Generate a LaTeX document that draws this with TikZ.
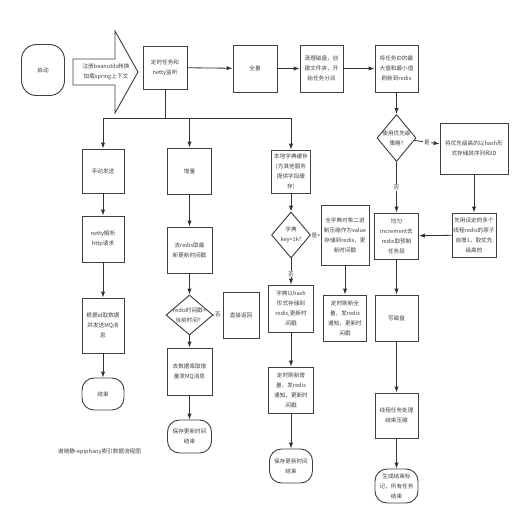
\documentclass[tikz,border=0pt]{standalone}
\usepackage{fontspec}
\setmainfont{Noto Sans CJK SC}
\usepackage{tikz}
\usetikzlibrary{arrows.meta,shapes.geometric}
\newdimen\pxu \pxu=0.03cm
\tikzset{
  bx/.style={rectangle,draw=black!75,fill=white,line width=.8pt,inner sep=1pt,align=center,
    font=\fontsize{4.8}{8.5}\selectfont,text=black!75},
  tm/.style={bx,rounded corners=12\pxu},
  dc/.style={diamond,draw=black!75,fill=white,line width=.8pt,inner sep=0pt},
  sz/.style 2 args={minimum width=#1\pxu,minimum height=#2\pxu},
  arr/.style={-{Latex[length=5pt,width=3.6pt]},draw=black!80,line width=.7pt},
  ln/.style={draw=black!80,line width=.7pt},
  lb/.style={font=\fontsize{4.8}{8.5}\selectfont,text=black!75,align=center},
  yn/.style={lb,fill=white,inner sep=.8pt},
}

\begin{document}
\begin{tikzpicture}[x=0.03cm,y=-0.03cm,
  bigarr/.style={draw=black!75,fill=white,line width=.8pt,line join=miter},
]
\useasboundingbox (0,0) rectangle (523,524);
% ============================= top row
\node[tm,sz={43}{51},rounded corners=15\pxu] (start) at (43,70) {启动};
\draw[bigarr] (73,59) -- (115,59) -- (115,31) -- (138,72) -- (115,113) -- (115,85) -- (73,85) -- cycle;
\node[lb] (reg) at (106,72) {注册beanutils转换\\加载spring上下文};
\node[bx,sz={44}{43}] (timer) at (165,67.5) {定时任务和\\netty监听};
\node[bx,sz={44}{47}] (full) at (255,68.5) {全量};
\node[bx,sz={43}{47}] (clean) at (321.5,68.5) {清理磁盘，创\\建文件夹，开\\始任务分派};
\node[bx,sz={43}{47}] (maxid) at (396.5,68.5) {将任务ID的最\\大值和最小值\\刷新到redis};
\draw[arr] (timer) -- (full);
\draw[arr] (full) -- (clean);
\draw[arr] (clean) -- (maxid);
% ============================= full load
\node[dc,sz={39}{47},label={[lb]center:使用优先级\\策略?}] (prio) at (396.5,138) {};
\node[bx,sz={68}{51}] (hprio) at (474,148.5) {将优先级高的以hash形\\式存储其序列和ID};
\node[bx,sz={44}{44}] (atom) at (474,235) {先用设定的多个\\线程redis的原子\\自增1，取优先\\级高的};
\node[bx,sz={44}{46}] (even) at (396.5,236) {均匀\\increment去\\redis取预制\\任务段};
\node[bx,sz={43}{46}] (disk) at (396.5,318) {写磁盘};
\node[bx,sz={43}{45}] (thdone) at (396.5,415.5) {线程任务处理\\结束压缩};
\node[tm,sz={43}{34}] (finish) at (396.5,486) {生成结束标\\记，所有任务\\结束};
\draw[arr] (maxid) -- (prio);
\draw[arr] (prio) -- node[yn] {是} (hprio);
\draw[arr] (prio) -- node[yn] {否} (even);
\draw[arr] (hprio) -- (atom);
\draw[arr] (atom) -- (even);
\draw[arr] (even) -- (disk);
\draw[arr] (disk) -- (thdone);
\draw[arr] (thdone) -- (finish);
% ============================= dictionary cache
\node[bx,sz={39}{43}] (dict) at (291,171.5) {本地字典缓存\\(为其他服务\\提供字段缓\\存)};
\node[dc,sz={39}{46},label={[lb]center:字典\\key>1k?}] (dkey) at (291,235) {};
\node[bx,sz={48}{60}] (fdict) at (345,235) {全字典对象二进\\制压缩作为value\\存储到redis，更\\新时间戳};
\node[bx,sz={43}{46}] (fref) at (345,318) {定时刷新全\\量，发redis\\通知，更新时\\间戳};
\node[bx,sz={45}{47}] (dhash) at (291,308.5) {字典以hash\\形式存储到\\redis,更新时\\间戳};
\node[bx,sz={45}{46}] (iref) at (291,390) {定时刷新增\\量，发redis\\通知，更新时\\间戳};
\node[tm,sz={43}{34}] (save2) at (291,466) {保存更新时间\\结束};
\draw[arr] (dict) -- (dkey);
\draw[arr] (dkey) -- node[yn,pos=.35] {是} (fdict);
\draw[arr] (dkey) -- node[yn,pos=.6] {否} (dhash);
\draw[arr] (fdict) -- (fref);
\draw[arr] (dhash) -- (iref);
\draw[arr] (iref) -- (save2);
% ============================= increment
\node[bx,sz={44}{46}] (incr) at (189.5,171) {增量};
\node[bx,sz={45}{46}] (rts) at (189.5,250) {去redis取最\\新更新时间戳};
\node[dc,sz={47}{40},label={[lb]center:redis时间戳<\\当前时间？}] (cmp) at (189.5,315) {};
\node[bx,sz={36}{46}] (ret) at (241,315) {直接返回};
\node[bx,sz={45}{47}] (dbinc) at (189.5,371.5) {去数据库取增\\量发MQ消息};
\node[tm,sz={44}{33}] (save1) at (189.5,436.5) {保存更新时间\\结束};
\draw[arr] (incr) -- (rts);
\draw[arr] (rts) -- (cmp);
\draw[arr] (cmp) -- node[yn] {否} (ret);
\draw[arr] (cmp) -- (dbinc);
\draw[arr] (dbinc) -- (save1);
% ============================= manual send
\node[bx,sz={42}{44}] (manual) at (103,171) {手动发送};
\node[bx,sz={42}{46}] (netty) at (103,239) {netty解析\\http请求};
\node[bx,sz={42}{55}] (fetch) at (103,325.5) {根据id取数据\\并发送MQ消\\息};
\node[tm,sz={42}{32}] (end1) at (103,394) {结束};
\draw[arr] (manual) -- (netty);
\draw[arr] (netty) -- (fetch);
\draw[arr] (fetch) -- (end1);
% ============================= branch bar
\coordinate (bar) at (165,118);
\draw[ln] (timer) -- (bar);
\draw[arr] (bar) -| (manual);
\draw[arr] (bar) -| (incr);
\draw[arr] (bar) -| (dict);
\node[lb,anchor=west] (cap) at (54,452) {谢晓静-epiphany索引数据流程图};
\end{tikzpicture}
\end{document}
